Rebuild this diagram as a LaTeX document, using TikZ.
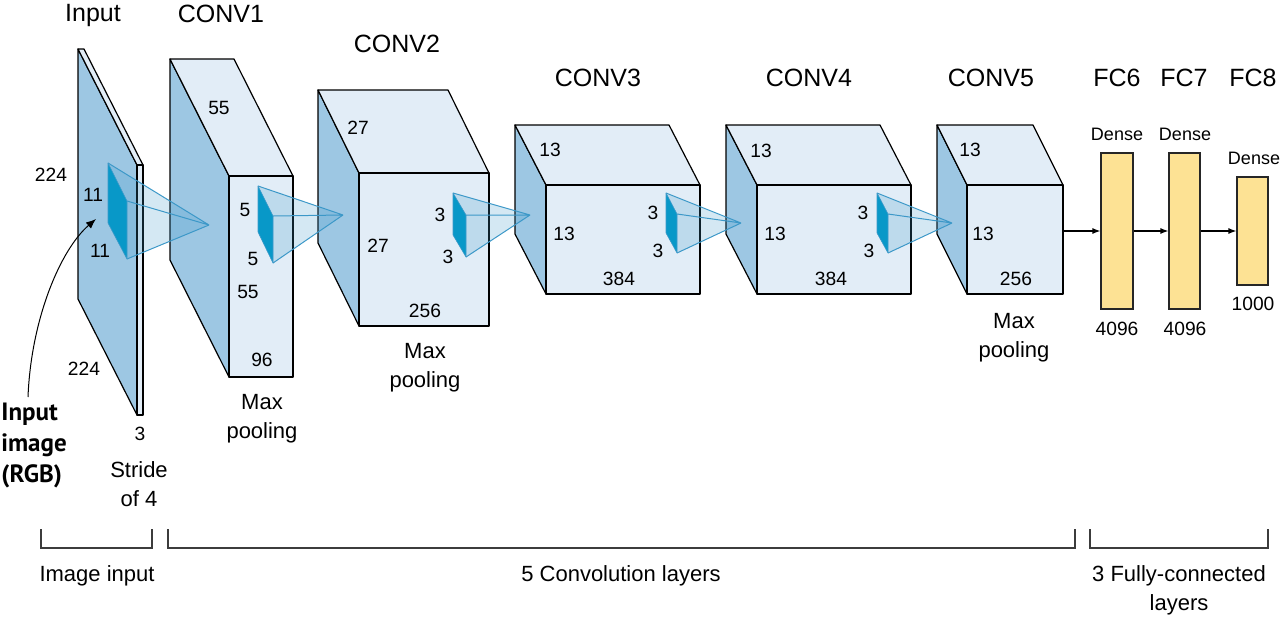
\documentclass[tikz,border=0pt]{standalone}
\usepackage{fontspec}
\setmainfont{Liberation Sans}
\newfontfamily\labelbold{PT Sans}
\usetikzlibrary{arrows.meta}
\definecolor{sideblue}{RGB}{157,199,227}
\definecolor{frontblue}{RGB}{226,237,247}
\definecolor{kerneldark}{RGB}{8,152,200}
\definecolor{kernelline}{RGB}{60,152,200}
\definecolor{fcfill}{RGB}{253,226,148}
\definecolor{brk}{RGB}{60,60,60}
\tikzset{
  sideface/.style={fill=sideblue, draw=black, line width=0.6pt, line join=round},
  frontface/.style={fill=frontblue, draw=black, line width=0.6pt, line join=round},
  kface/.style={fill=kerneldark, draw=kernelline, line width=0.3pt, line join=round},
  kcone/.style={fill=kernelline, fill opacity=0.22, draw=none},
  kline/.style={draw=kernelline, line width=0.5pt},
  title/.style={font=\fontsize{12.5}{15}\selectfont, inner sep=0pt, anchor=base},
  num/.style={font=\fontsize{9.6}{11}\selectfont, inner sep=0pt},
  dense/.style={font=\fontsize{9}{11}\selectfont, inner sep=0pt},
  note/.style={font=\fontsize{11}{14.5}\selectfont, inner sep=0pt, align=center, anchor=north},
  fcbox/.style={fill=fcfill, draw=black!85, line width=0.6pt, inner sep=0pt},
  flow/.style={draw=black, line width=0.6pt, -{Latex[length=4pt,width=3pt]}},
  bracket/.style={draw=brk, line width=0.6pt},
}
% #1 name, #2 bx, #3 by, #4 dx, #5 dy, #6 w, #7 h  (pixel units)
\newcommand{\drawcube}[7]{%
 \coordinate (#1-btl) at (#2,#3);
 \coordinate (#1-ftl) at ({#2+#4},{#3+#5});
 \coordinate (#1-ftr) at ({#2+#4+#6},{#3+#5});
 \coordinate (#1-fbr) at ({#2+#4+#6},{#3+#5+#7});
 \coordinate (#1-fbl) at ({#2+#4},{#3+#5+#7});
 \coordinate (#1-btr) at ({#2+#6},#3);
 \coordinate (#1-bbl) at (#2,{#3+#7});
 \filldraw[sideface] (#1-btl) -- (#1-ftl) -- (#1-fbl) -- (#1-bbl) -- cycle;
 \filldraw[frontface] (#1-btl) -- (#1-btr) -- (#1-ftr) -- (#1-ftl) -- cycle;
 \filldraw[frontface] (#1-ftl) rectangle (#1-fbr);
}
% #1 name, A=(#2,#3), B=(#4,#5), C=(#4,#6), D=(#2,#7), apex #8
\newcommand{\drawkernel}[8]{%
 \coordinate (#1-a) at (#2,#3);
 \coordinate (#1-b) at (#4,#5);
 \coordinate (#1-c) at (#4,#6);
 \coordinate (#1-d) at (#2,#7);
 \fill[kcone] (#1-a) -- (#8) -- (#1-c) -- (#1-b) -- cycle;
 \filldraw[kface] (#1-a) -- (#1-b) -- (#1-c) -- (#1-d) -- cycle;
 \draw[kline] (#1-a) -- (#8) (#1-b) -- (#8) (#1-c) -- (#8);
}
\begin{document}
\begin{tikzpicture}[x=0.5pt, y=-0.5pt]
\useasboundingbox (0,0) rectangle (1280,616);

% ---- volumes
\drawcube{inp}{78}{49}{59}{116}{6}{250}
\drawcube{c1}{170}{59}{59}{117}{64}{201}
\drawcube{c2}{318}{90}{41}{83}{130}{153}
\drawcube{c3}{515}{125}{31}{60}{154}{109}
\drawcube{c4}{726}{125}{31}{60}{154}{109}
\drawcube{c5}{937}{125}{30}{60}{96}{109}

% ---- kernels
\coordinate (p1) at (209,225);
\coordinate (p2) at (343,215);
\coordinate (p3) at (530,215);
\coordinate (p4) at (741,223);
\coordinate (p5) at (952,223);
\drawkernel{k1}{108}{163}{127}{201}{259}{223}{p1}
\drawkernel{k2}{258}{186}{273}{216}{263}{232}{p2}
\drawkernel{k3}{453}{193}{466}{215}{257}{235}{p3}
\drawkernel{k4}{666}{193}{677}{214}{253}{233}{p4}
\drawkernel{k5}{877}{193}{888}{214}{253}{233}{p5}

% ---- fully connected
\node[fcbox, minimum width=16pt, minimum height=78pt] (fc6) at (1117,231) {};
\node[fcbox, minimum width=15.5pt, minimum height=78pt] (fc7) at (1184.5,231) {};
\node[fcbox, minimum width=15.5pt, minimum height=54pt] (fc8) at (1252.5,231) {};
\coordinate (c5out) at (1063,231);
\draw[flow] (c5out) -- (fc6.west);
\draw[flow] (fc6.east) -- (fc7.west);
\draw[flow] (fc7.east) -- (fc8.west);

% ---- titles
\node[title] (tinput) at (93,21) {Input};
\node[title] (tc1) at (221,22) {CONV1};
\node[title] (tc2) at (397,52) {CONV2};
\node[title] (tc3) at (598,86) {CONV3};
\node[title] (tc4) at (809,86) {CONV4};
\node[title] (tc5) at (991,86) {CONV5};
\node[title] (tfc6) at (1117,86) {FC6};
\node[title] (tfc7) at (1184,86) {FC7};
\node[title] (tfc8) at (1253,86) {FC8};

\node[dense] (d6) at (1117,134) {Dense};
\node[dense] (d7) at (1185,134) {Dense};
\node[dense] (d8) at (1254,158) {Dense};
\node[num] (n6) at (1117,329) {4096};
\node[num] (n7) at (1185,329) {4096};
\node[num] (n8) at (1253,304) {1000};

% ---- dimension labels
\node[num] (l1) at (51,175) {224};
\node[num] (l2) at (93,195) {11};
\node[num] (l3) at (100,251) {11};
\node[num] (l4) at (84,369) {224};
\node[num] (l5) at (140,434) {3};
\node[note] (l6) at (139,461) {Stride\\of 4};

\node[num] (m1) at (219,108) {55};
\node[num] (m2) at (245,210) {5};
\node[num] (m3) at (253,259) {5};
\node[num] (m4) at (248,292) {55};
\node[num] (m5) at (262,360) {96};
\node[note] (m6) at (262,394) {Max\\pooling};

\node[num] (q1) at (358,128) {27};
\node[num] (q2) at (378,246) {27};
\node[num] (q3) at (440,215) {3};
\node[num] (q4) at (448,257) {3};
\node[num] (q5) at (425,311) {256};
\node[note] (q6) at (425,343) {Max\\pooling};

\node[num] (r1) at (550,150) {13};
\node[num] (r2) at (564,234) {13};
\node[num] (r3) at (653,213) {3};
\node[num] (r4) at (658,251) {3};
\node[num] (r5) at (619,279) {384};

\node[num] (s1) at (761,151) {13};
\node[num] (s2) at (775,234) {13};
\node[num] (s3) at (863,213) {3};
\node[num] (s4) at (869,251) {3};
\node[num] (s5) at (831,279) {384};

\node[num] (t1) at (970,150) {13};
\node[num] (t2) at (983,234) {13};
\node[num] (t3) at (1016,279) {256};
\node[note] (t4) at (1014,313) {Max\\pooling};

% ---- input image label and arrow
\node[font=\labelbold\bfseries\fontsize{12.5}{15.5}\selectfont, align=left, anchor=north west, inner sep=0pt] (rgb) at (1,403) {Input\\image\\(RGB)};
\coordinate (rgbtop) at (28,397);
\coordinate (rgbtip) at (96,219);
\draw[line width=0.5pt, -{Latex[length=5pt,width=4pt]}] (rgbtop) .. controls (31,320) and (60,250) .. (rgbtip);

% ---- brackets
\draw[bracket] (41,529) -- (41,548) -- (152,548) -- (152,529);
\draw[bracket] (168,529) -- (168,548) -- (1075,548) -- (1075,529);
\draw[bracket] (1090,529) -- (1090,548) -- (1268,548) -- (1268,529);
\node[note] (b1) at (97,565) {Image input};
\node[note] (b2) at (621,565) {5 Convolution layers};
\node[note] (b3) at (1179,565) {3 Fully-connected\\layers};
\end{tikzpicture}
\end{document}
